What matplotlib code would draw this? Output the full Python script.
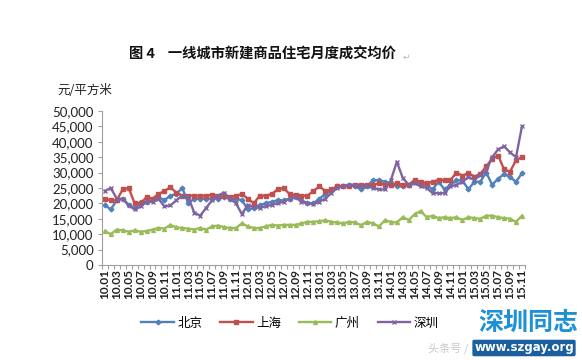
import matplotlib
matplotlib.use("Agg")
import matplotlib.pyplot as plt

plt.rcParams['font.family'] = ['Noto Sans CJK SC', 'DejaVu Sans']

# ---- data -------------------------------------------------------------
years = ['10', '11', '12', '13', '14', '15']
months = []
for y in years:
    for m in range(1, 13):
        months.append(f"{y}.{m:02d}")
months = months[:71]  # 10.01 .. 15.11

beijing = [19500, 18000, 21000, 21500, 19500, 18400, 20500, 20500, 21000, 22000, 21000, 22500,
           23000, 25000, 20000, 21500, 21500, 21500, 21500, 21500, 22000, 21500, 21500, 21000,
           18000, 18500, 19500, 20000, 20500, 21000, 21000, 21500, 22000, 21000, 20000, 20000,
           21500, 23000, 24000, 25500, 25500, 26000, 25500, 24500, 25500, 27500, 27500, 27000,
           26500, 25500, 25500, 26000, 27000, 26000, 26000, 24500, 27000, 24500, 26000, 27500,
           27500, 24500, 27000, 27000, 30000, 26000, 28000, 29500, 28500, 27000, 29800]

shanghai = [21500, 21000, 21000, 24500, 25000, 20000, 20000, 22000, 21500, 23000, 24000, 25200,
            23500, 22500, 22500, 22500, 22500, 22500, 22800, 22500, 22500, 22000, 22500, 23000,
            21500, 20000, 22500, 22500, 23000, 24500, 25000, 23000, 22700, 22500, 22500, 24000,
            25500, 24000, 24500, 25500, 25500, 25500, 26000, 26000, 26000, 26000, 26500, 26000,
            26000, 26500, 26000, 26000, 27600, 27000, 26500, 27000, 27600, 27500, 27500, 30000,
            29000, 29800, 28700, 29500, 32000, 34500, 35500, 31000, 30300, 34000, 35000]

guangzhou = [11000, 10000, 11500, 11200, 10800, 11200, 10800, 11000, 11500, 12000, 11800, 13000,
             12200, 12000, 11800, 11500, 12000, 11500, 12500, 12800, 12300, 12000, 12000, 13500,
             12500, 12000, 12000, 12500, 13000, 12800, 13000, 13000, 13000, 13500, 14000, 14000,
             14200, 14500, 14000, 13800, 13500, 14000, 13800, 12900, 14000, 13500, 12500, 14500,
             14000, 13800, 15500, 14600, 16500, 17500, 15500, 16000, 15200, 15500, 15200, 15500,
             14600, 15500, 15200, 15000, 16000, 16000, 15500, 15200, 15000, 14000, 16000]

shenzhen = [24000, 25000, 21500, 21500, 19300, 18000, 19000, 20500, 20500, 21500, 19000, 19300,
            21000, 22500, 22000, 17000, 16000, 18500, 21000, 22500, 23500, 21500, 20000, 16500,
            19500, 18800, 18500, 19000, 19500, 20000, 20500, 21500, 22000, 20500, 20000, 19800,
            20500, 21500, 23300, 25000, 25500, 26000, 26000, 25500, 25500, 25000, 24500, 24500,
            27500, 33500, 28200, 26000, 26500, 25500, 25000, 23300, 23300, 23300, 25500, 26000,
            27000, 28500, 27600, 29200, 30500, 35000, 37500, 38500, 36500, 35000, 45000]

series_names = ['北京', '上海', '广州', '深圳']
yticks = [0, 5000, 10000, 15000, 20000, 25000, 30000, 35000, 40000, 45000, 50000]

# ---- figure -----------------------------------------------------------
fig = plt.figure(figsize=(5.82, 3.60), dpi=100)
fig.patch.set_facecolor('white')
ax = fig.add_axes([0.175, 0.264, 0.727, 0.428])

styles = [
    (beijing, '#4F81BD', 'D', 2.4),
    (shanghai, '#C0504D', 's', 2.8),
    (guangzhou, '#9BBB59', '^', 2.8),
    (shenzhen, '#8064A2', 'x', 3.0),
]
x = list(range(len(months)))
handles = []
for (vals, col, mk, ms), name in zip(styles, series_names):
    ln, = ax.plot(x, vals, color=col, lw=1.7, marker=mk, ms=ms,
                  mew=1.0, mec=col, mfc=col, label=name)
    handles.append(ln)

ax.set_xlim(-0.5, len(months) - 0.5)
ax.set_ylim(0, 50000)
ax.set_yticks(yticks)
ax.set_yticklabels([f"{v:,}" for v in yticks], fontsize=9.5, family=['Lato', 'DejaVu Sans'],
                   color='#222222')

ax.set_xticks(x[::2])
ax.set_xticklabels(months[::2], rotation=90, fontsize=8.5, family=['Lato', 'DejaVu Sans'],
                   fontweight='bold', color='#222222')
ax.set_xticks([i - 0.5 for i in range(len(months) + 1)], minor=True)
ax.tick_params(axis='x', which='major', length=0, pad=3)
ax.tick_params(axis='x', which='minor', length=3, color='#A0A0A0', width=0.8)
ax.tick_params(axis='y', which='major', length=3, color='#A0A0A0', width=0.8, pad=3)

for s in ['top', 'right']:
    ax.spines[s].set_visible(False)
for s in ['left', 'bottom']:
    ax.spines[s].set_color('#A0A0A0')
    ax.spines[s].set_linewidth(0.8)

# y-axis unit
fig.text(57 / 582, 1 - 91 / 360, '元/平方米', fontsize=9, ha='left', va='center', color='#222222')

# title
fig.text(262 / 582, 1 - 55 / 360, '图 4    一线城市新建商品住宅月度成交均价', fontsize=10.3,
         fontweight='bold', ha='center', va='center', color='#111111')
fig.text(403 / 582, 1 - 57 / 360, '↵', fontsize=6.5, ha='left', va='center',
         color='#B8B8B8', family=['DejaVu Sans'])

# legend
leg = fig.legend(handles=handles, labels=series_names, loc='center',
                 bbox_to_anchor=(290 / 582, 1 - 323 / 360), ncol=4, frameon=False,
                 fontsize=9, handlelength=2.6, handletextpad=0.3, columnspacing=1.4)

# watermark
fig.text(528 / 582, 1 - 323 / 360, '深圳同志', fontsize=18, fontweight='bold',
         color='#1E90D6', ha='center', va='center')
fig.text(448 / 582, 1 - 348 / 360, '头条号 /', fontsize=8, color='#C8C8C8',
         ha='center', va='center')
fig.text(524 / 582, 1 - 348 / 360, 'www.szgay.org', fontsize=8.5, fontweight='bold',
         color='white', ha='center', va='center', family=['DejaVu Sans'],
         bbox=dict(boxstyle='round,pad=0.15', fc='#1B5F9E', ec='none'))

fig.savefig('out.png', dpi=100, facecolor='white')
